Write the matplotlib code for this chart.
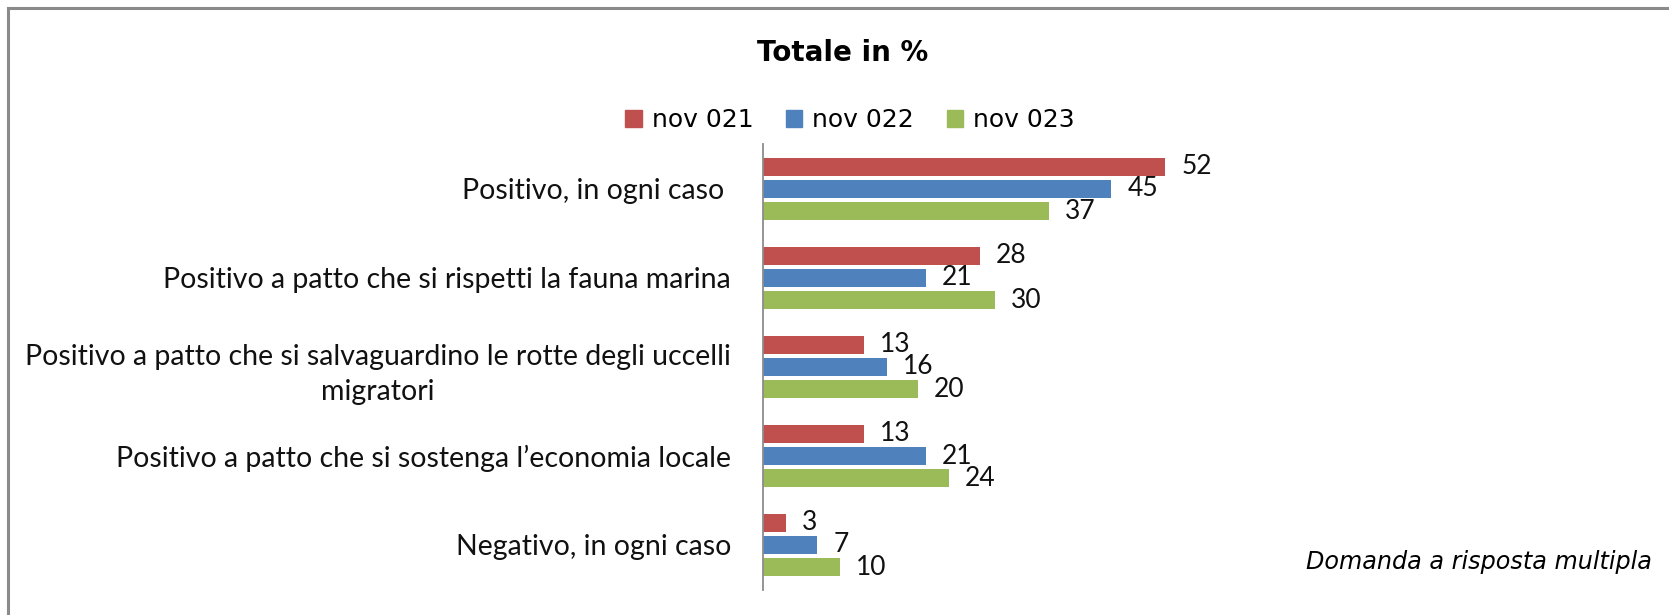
import numpy as np
import matplotlib
matplotlib.use("Agg")
import matplotlib.pyplot as plt
from matplotlib.patches import Patch, Rectangle

# data
categories = [
    "Positivo, in ogni caso ",
    "Positivo a patto che si rispetti la fauna marina",
    "Positivo a patto che si salvaguardino le rotte degli uccelli\nmigratori",
    "Positivo a patto che si sostenga l\u2019economia locale",
    "Negativo, in ogni caso",
]
series_names = ["nov 021", "nov 022", "nov 023"]
nov21 = [52, 28, 13, 13, 3]
nov22 = [45, 21, 16, 21, 7]
nov23 = [37, 30, 20, 24, 10]
colors = ["#C0504D", "#4F81BD", "#9BBB59"]

W, H = 1669, 615
fig = plt.figure(figsize=(W / 100, H / 100), dpi=100)

# outer frame (only top and left edges visible in the reference)
fig.add_artist(Rectangle((8 / W, -0.1), 2, 1 - 8 / H + 0.1, transform=fig.transFigure,
                         fill=False, ec="#8a8a8a", lw=2.2))

ax = fig.add_axes([763 / W, 25.5 / H, 774 / W, 445 / H])

y = np.arange(len(categories))
offsets = [-0.25, 0.0, 0.25]
for vals, off, c, name in zip([nov21, nov22, nov23], offsets, colors, series_names):
    bars = ax.barh(y + off, vals, height=0.197, color=c, label=name)
    ax.bar_label(bars, labels=[str(v) for v in vals], padding=11.5,
                 fontsize=19, family="Lato", color="#111111")

ax.set_ylim(len(categories) - 0.5, -0.5)
ax.set_xlim(0, 100)
ax.set_yticks(y)
ax.set_yticklabels(categories, fontsize=20.5, family="Lato", color="#111111",
                   multialignment="center", linespacing=1.45)
ax.tick_params(axis="y", length=0, pad=23)
ax.set_xticks([])
for s in ["top", "right", "bottom"]:
    ax.spines[s].set_visible(False)
ax.spines["left"].set_color("#8c8c8c")
ax.spines["left"].set_linewidth(1.3)

fig.text(843 / W, 1 - 53 / H, "Totale in %", ha="center", va="center",
         fontsize=20, fontweight="bold", family="DejaVu Sans")

handles = [Patch(color=c) for c in colors]
fig.legend(handles, series_names, loc="center", bbox_to_anchor=(850 / W, 1 - 120 / H),
           ncol=3, frameon=False, prop={"family": "DejaVu Sans", "size": 18},
           handlelength=0.66, handleheight=0.66, handletextpad=0.4, columnspacing=1.3)

fig.text(1652 / W, 1 - 562 / H, "Domanda a risposta multipla", ha="right", va="center",
         fontsize=17.2, style="italic", family="DejaVu Sans")

fig.savefig("out.png", dpi=100)
